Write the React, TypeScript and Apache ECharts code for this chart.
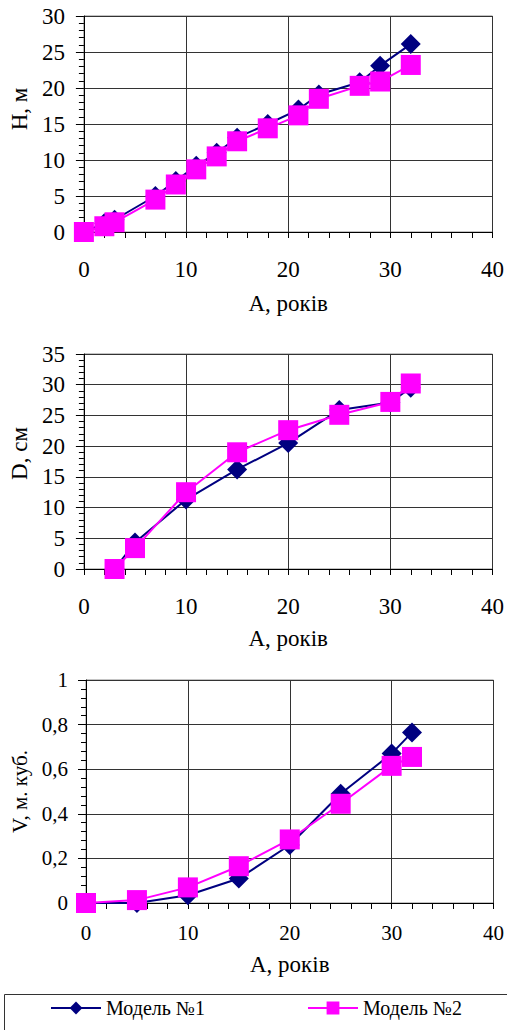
import React, { useEffect, useRef } from "react";
import * as echarts from "echarts";

const NAME1 = "Модель №1";
const NAME2 = "Модель №2";

// Chart 1: H, м
const hAge = [0, 2, 3, 7, 9, 11, 13, 15, 18, 21, 23, 27, 29, 32];
const hModel1 = [0, 1.2, 1.7, 5.0, 7.1, 9.2, 11.0, 13.1, 15.0, 17.0, 19.1, 20.8, 23.1, 26.1];
const hModel2 = [0, 0.8, 1.35, 4.5, 6.6, 8.7, 10.5, 12.6, 14.4, 16.2, 18.5, 20.3, 20.9, 23.2];

// Chart 2: D, см
const dAge = [3, 5, 10, 15, 20, 25, 30, 32];
const dModel1 = [0, 4.3, 11.3, 16.2, 20.5, 25.9, 27.1, 29.5];
const dModel2 = [0, 3.4, 12.5, 19.0, 22.6, 25.1, 27.2, 30.2];

// Chart 3: V, м. куб.
const vAge = [0, 5, 10, 15, 20, 25, 30, 32];
const vModel1 = [0, 0, 0.035, 0.11, 0.26, 0.49, 0.67, 0.765];
const vModel2 = [0, 0.013, 0.07, 0.165, 0.285, 0.445, 0.615, 0.655];

const xTitle = "A, років";
const yTitles = ["H, м", "D, см", "V, м. куб."];

const FONT = "Liberation Serif";
const NAVY = "#000080";
const MAGENTA = "#FF00FF";

const pairs = (xs: number[], ys: number[]) => xs.map((x, i) => [x, ys[i]]);

export default function App() {
  const ref = useRef<HTMLDivElement>(null);

  useEffect(() => {
    document.body.style.margin = "0";
    const chart = echarts.init(ref.current!, undefined, { renderer: "svg" });

    const grids = [
      { left: 82, top: 16, width: 412, height: 216 },
      { left: 82, top: 354, width: 412, height: 215 },
      { left: 86, top: 680, width: 408, height: 223 },
    ];
    const labelFs = [23, 23, 21];
    const xLabelMargin = [26, 26, 19];
    const xNameGap = [60, 58, 50];
    const yLabelMargin = [19, 19, 18];
    const yNameGap = [47, 47, 47];
    const yNamePad = [
      [0, 0, 0, 30],
      [0, 0, 0, 16],
      [0, 0, 0, 0],
    ];
    const yMax = [30, 35, 1];
    const yInt = [5, 5, 0.2];

    const xAxis = grids.map((_, i) => ({
      type: "value",
      gridIndex: i,
      min: 0,
      max: 40,
      interval: 10,
      name: xTitle,
      nameLocation: "middle",
      nameGap: xNameGap[i],
      nameTextStyle: { fontFamily: FONT, fontSize: 23, color: "#000" },
      axisLine: { show: true, onZero: false, lineStyle: { color: "#000", width: 1 } },
      axisTick: { show: true, length: 6, lineStyle: { color: "#000" } },
      minorTick: { show: true, splitNumber: 5, length: 6, lineStyle: { color: "#000" } },
      axisLabel: {
        fontFamily: FONT,
        fontSize: labelFs[i],
        color: "#000",
        margin: xLabelMargin[i],
        showMinLabel: true,
        showMaxLabel: true,
      },
      splitLine: { show: true, lineStyle: { color: "#333", width: 1 } },
    }));

    const yAxis = grids.map((_, i) => ({
      type: "value",
      gridIndex: i,
      min: 0,
      max: yMax[i],
      interval: yInt[i],
      name: yTitles[i],
      nameLocation: "middle",
      nameGap: yNameGap[i],
      nameTextStyle: {
        fontFamily: FONT,
        fontSize: i === 2 ? 21 : 23,
        color: "#000",
        padding: yNamePad[i],
      },
      axisLine: { show: true, onZero: false, lineStyle: { color: "#000", width: 1 } },
      axisTick: { show: true, length: 8, lineStyle: { color: "#000" } },
      minorTick: { show: true, splitNumber: 5, length: 5, lineStyle: { color: "#000" } },
      axisLabel: {
        fontFamily: FONT,
        fontSize: labelFs[i],
        color: "#000",
        margin: yLabelMargin[i],
        formatter: (v: number) => String(Math.round(v * 100) / 100).replace(".", ","),
      },
      splitLine: { show: true, lineStyle: { color: "#333", width: 1 } },
    }));

    const sets = [
      [hAge, hModel1, hModel2],
      [dAge, dModel1, dModel2],
      [vAge, vModel1, vModel2],
    ];
    const series: any[] = [];
    sets.forEach(([xs, m1, m2], i) => {
      series.push({
        name: NAME1,
        type: "line",
        xAxisIndex: i,
        yAxisIndex: i,
        data: pairs(xs, m1),
        symbol: "diamond",
        symbolSize: 20,
        clip: false,
        itemStyle: { color: NAVY },
        lineStyle: { color: NAVY, width: 2 },
      });
      series.push({
        name: NAME2,
        type: "line",
        xAxisIndex: i,
        yAxisIndex: i,
        data: pairs(xs, m2),
        symbol: "rect",
        symbolSize: 20,
        clip: false,
        itemStyle: { color: MAGENTA },
        lineStyle: { color: MAGENTA, width: 2 },
      });
    });

    const legendCommon = {
      orient: "horizontal",
      top: 993,
      padding: 5,
      itemWidth: 50,
      itemHeight: 16,
      itemGap: 7,
      textStyle: { fontFamily: FONT, fontSize: 20, color: "#000" },
      selectedMode: false,
    };

    chart.setOption({
      animation: false,
      backgroundColor: "#fff",
      textStyle: { fontFamily: FONT },
      grid: grids.map((g) => ({
        ...g,
        show: true,
        backgroundColor: "#fff",
        borderColor: "#888",
        borderWidth: 1,
        containLabel: false,
      })),
      xAxis,
      yAxis,
      series,
      legend: [
        { ...legendCommon, left: 45, data: [NAME1] },
        { ...legendCommon, left: 302, data: [NAME2] },
      ],
      graphic: [
        {
          type: "rect",
          left: 2,
          top: 992,
          shape: { width: 520, height: 60 },
          style: { fill: "none", stroke: "#333", lineWidth: 1 },
          z: -1,
        },
      ],
    });

    return () => chart.dispose();
  }, []);

  return <div ref={ref} style={{ width: 507, height: 1030 }} />;
}
